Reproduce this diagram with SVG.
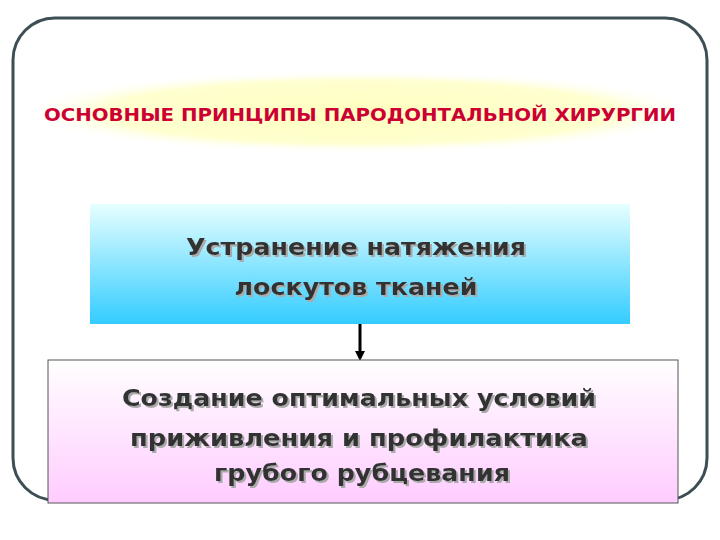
<svg xmlns="http://www.w3.org/2000/svg" width="720" height="540" viewBox="0 0 720 540">
<defs>
<radialGradient id="glow" cx="0.5" cy="0.5" r="0.5">
<stop offset="0" stop-color="#ffffc0"/><stop offset="0.75" stop-color="#ffffd0"/><stop offset="1" stop-color="#ffffff" stop-opacity="0"/>
</radialGradient>
<linearGradient id="g1" x1="0" y1="0" x2="0" y2="1"><stop offset="0" stop-color="#e6ffff"/><stop offset="1" stop-color="#33ccff"/></linearGradient>
<linearGradient id="g2" x1="0" y1="0" x2="0" y2="1"><stop offset="0" stop-color="#ffffff"/><stop offset="1" stop-color="#ffccff"/></linearGradient>
<marker id="ah" markerWidth="10" markerHeight="10" refX="7" refY="5" orient="auto" markerUnits="userSpaceOnUse"><path d="M0,0 L10,5 L0,10 Z" fill="#000"/></marker>
<filter id="sh" x="-5%" y="-20%" width="110%" height="140%"><feDropShadow dx="2" dy="2" stdDeviation="0.5" flood-color="#aaa"/></filter>
<style>
.t{font-family:"DejaVu Sans","Liberation Sans",sans-serif;font-weight:bold;text-anchor:middle;fill:#333;font-size:23px;filter:url(#sh);}
</style>
</defs>
<rect x="13" y="18" width="694" height="482" rx="42" fill="#fff" stroke="#3d4f55" stroke-width="3"/>
<g id="title">
<ellipse cx="360" cy="112" rx="340" ry="42" fill="url(#glow)"/>
<text x="360" y="121" font-family="DejaVu Sans,sans-serif" font-weight="bold" font-size="17" fill="#cc0033" text-anchor="middle" textLength="632" lengthAdjust="spacingAndGlyphs">ОСНОВНЫЕ ПРИНЦИПЫ ПАРОДОНТАЛЬНОЙ ХИРУРГИИ</text>
</g>
<g id="connectors">
<line x1="360" y1="324" x2="360" y2="358" stroke="#000" stroke-width="3" marker-end="url(#ah)"/>
</g>
<g id="box1">
<rect x="90" y="204" width="540" height="120" fill="url(#g1)"/>
<text class="t" x="356" y="255" textLength="340" lengthAdjust="spacingAndGlyphs">Устранение натяжения</text>
<text class="t" x="356" y="295" textLength="243" lengthAdjust="spacingAndGlyphs">лоскутов тканей</text>
</g>
<g id="box2">
<rect x="48" y="360" width="630" height="143" fill="url(#g2)" stroke="#555" stroke-width="1"/>
<text class="t" x="359" y="406" textLength="474" lengthAdjust="spacingAndGlyphs">Создание оптимальных условий</text>
<text class="t" x="359" y="446" textLength="458" lengthAdjust="spacingAndGlyphs">приживления и профилактика</text>
<text class="t" x="362" y="481" textLength="296" lengthAdjust="spacingAndGlyphs">грубого рубцевания</text>
</g>
</svg>
